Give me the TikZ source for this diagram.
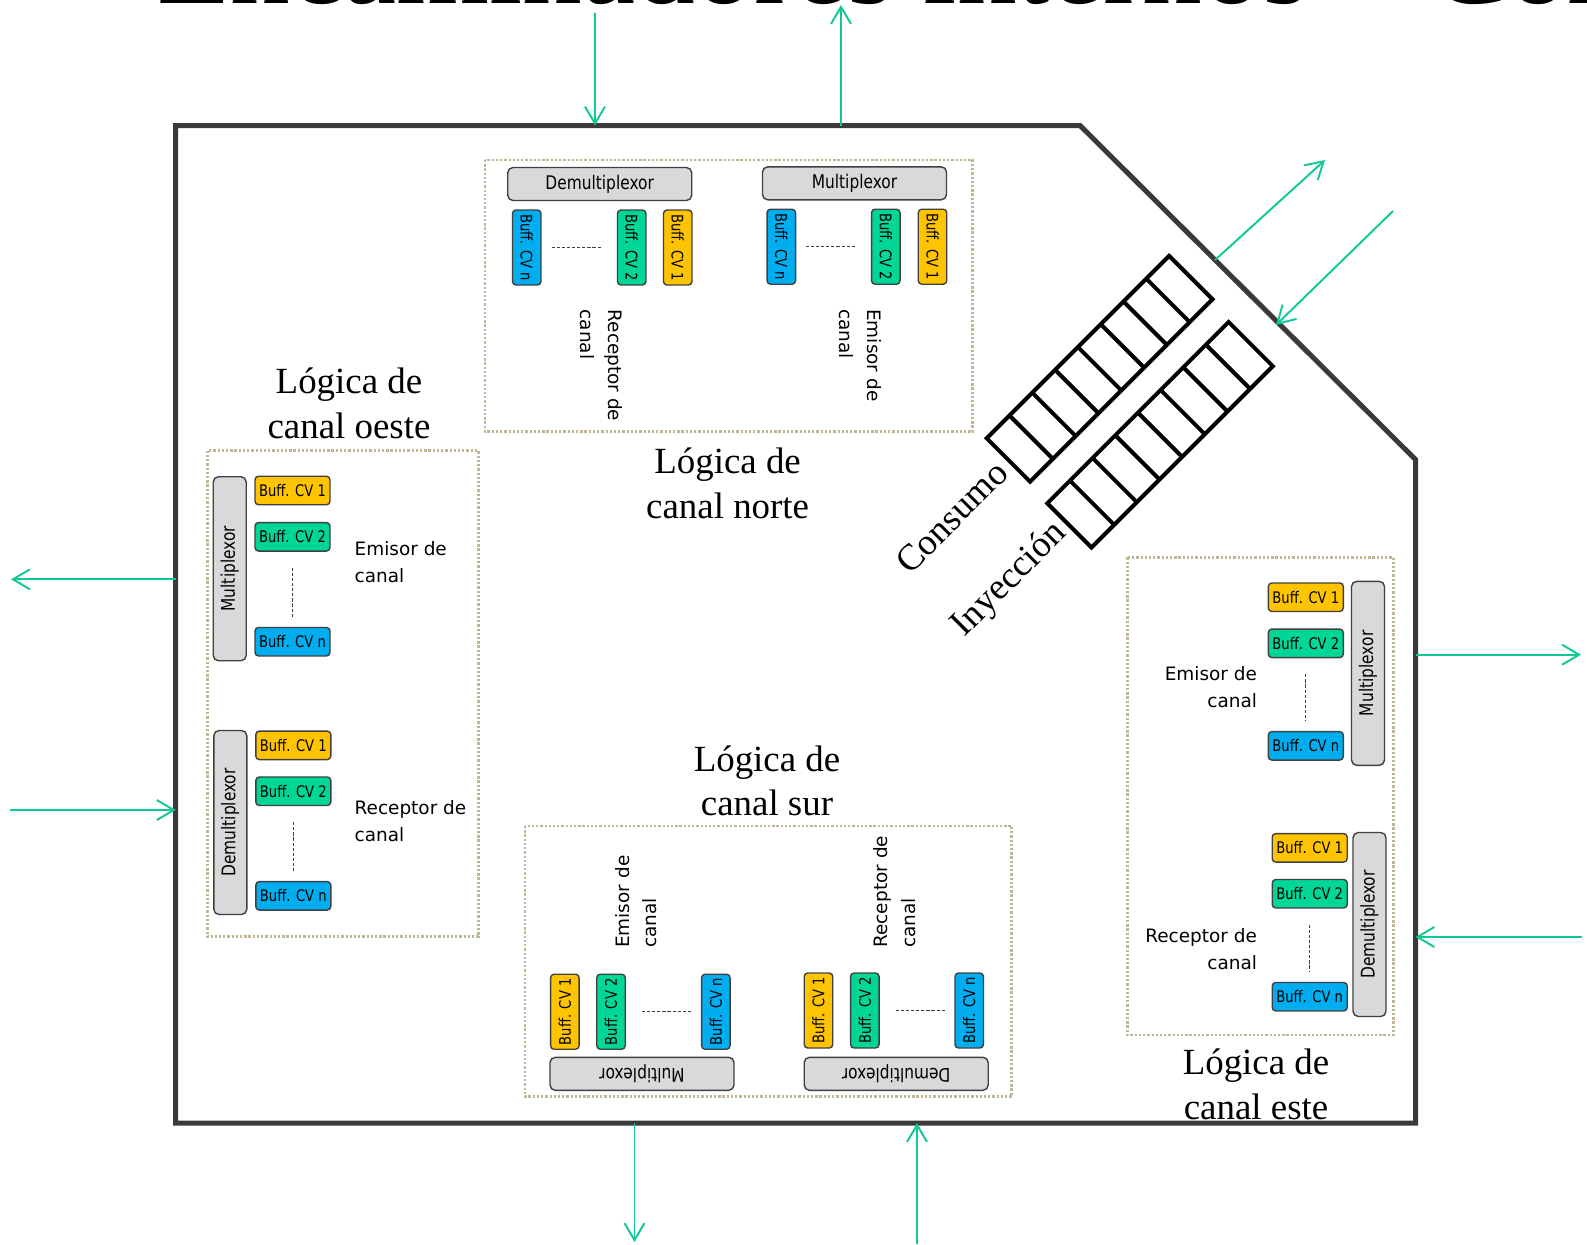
\documentclass[tikz,border=0pt]{standalone}
\usepackage{fontspec}
\setmainfont{Liberation Serif}
\newfontfamily\labfont{DejaVu Sans}
\newfontfamily\boxfont{DejaVu Sans}[FakeStretch=0.82]
\usetikzlibrary{arrows.meta}
\definecolor{cvyellow}{RGB}{255,196,0}
\definecolor{cvgreen}{RGB}{0,214,150}
\definecolor{cvblue}{RGB}{0,174,239}
\definecolor{muxgray}{RGB}{217,217,217}
\definecolor{edgegray}{RGB}{64,64,64}
\definecolor{frametan}{RGB}{190,182,150}
\definecolor{linkgreen}{RGB}{16,200,150}

\begin{document}
\begin{tikzpicture}[
        x=0.2mm, y=-0.2mm,
        mux/.style={draw=edgegray, fill=muxgray, rounded corners=3pt, line width=0.8pt,
                    minimum width=36.8mm, minimum height=6.6mm, inner sep=0pt,
                    font=\boxfont\fontsize{10.7}{12}\selectfont},
        buf/.style={draw=edgegray, rounded corners=2pt, line width=0.8pt,
                    minimum width=15mm, minimum height=5.7mm, inner sep=0pt,
                    font=\boxfont\fontsize{9.1}{10}\selectfont},
        cv1/.style={buf, fill=cvyellow},
        cv2/.style={buf, fill=cvgreen},
        cvn/.style={buf, fill=cvblue},
        ellip/.style={draw=edgegray, line width=0.7pt, dash pattern=on 1.8pt off 1.1pt,
                      shorten <=3.2mm, shorten >=1.9mm},
        side/.style={inner sep=0pt, font=\labfont\fontsize{10.5}{15.8}\selectfont},
        title/.style={align=center, inner sep=0pt, font=\fontsize{21}{25.3}\selectfont},
        qlbl/.style={inner sep=0pt, rotate=45, font=\fontsize{21}{25}\selectfont},
        frame/.style={draw=frametan, line width=1.6pt, dash pattern=on 1.3pt off 1.1pt},
        router/.style={draw=edgegray!90!black, line width=1mm, line join=miter},
        fifo/.style={line width=0.8mm, line join=miter},
        link/.style={draw=linkgreen, line width=1.1pt,
                     -{Straight Barb[length=3.4mm, width=4mm]}}]

    \useasboundingbox (0,0) rectangle (1587,1244);

    % titulo cortado arriba
    \begin{scope}
        \clip (0,0) rectangle (1587,1244);
        \node[anchor=base west, inner sep=0pt, font=\fontsize{68}{80}\selectfont] (head)
            at (157,3) {Encaminadores internos -- Componentes};
    \end{scope}

    % contorno del encaminador
    \draw[router] (175.7,125.5) -- (1080,125.5) -- (1415.5,459.5)
                  -- (1415.5,1123) -- (175.7,1123) -- cycle;

    \draw[frame] (485,160)     rectangle (972.7,431.7);
    \draw[frame] (207.3,450.7) rectangle (478.3,936.7);
    \draw[frame] (1127.3,557.3) rectangle (1393.3,1035);
    \draw[frame] (525,826)     rectangle (1011.7,1096.7);

    % --- Lógica de canal norte
    \node[mux] (nDemux) at (599.7,184)   {Demultiplexor};
    \node[mux] (nMux)   at (854.5,183.3) {Multiplexor};
    \node[cvn, rotate=-90] (nRn) at (526.7,247.5) {Buff. CV n};
    \node[cv2, rotate=-90] (nR2) at (631.7,247.5) {Buff. CV 2};
    \node[cv1, rotate=-90] (nR1) at (677.7,247.5) {Buff. CV 1};
    \node[cvn, rotate=-90] (nEn) at (781.3,246.7) {Buff. CV n};
    \node[cv2, rotate=-90] (nE2) at (885.8,246.7) {Buff. CV 2};
    \node[cv1, rotate=-90] (nE1) at (932.5,246.7) {Buff. CV 1};
    \draw[ellip] (nR2) -- (nRn);
    \draw[ellip] (nE2) -- (nEn);
    \node[side, align=left, rotate=-90] (nRlab) at (601,365.5)   {Receptor de\\canal};
    \node[side, align=left, rotate=-90] (nElab) at (860.5,355.4) {Emisor de\\canal};
    \node[title] (nTitle) at (727.6,483.2) {Lógica de\\canal norte};

    % --- Lógica de canal oeste
    \node[mux, rotate=90] (wMux) at (229.7,568.7) {Multiplexor};
    \node[cv1] (wE1) at (292.5,490.5) {Buff. CV 1};
    \node[cv2] (wE2) at (292.5,536.8) {Buff. CV 2};
    \node[cvn] (wEn) at (292.5,641.7) {Buff. CV n};
    \draw[ellip] (wE2) -- (wEn);
    \node[mux, rotate=90] (wDemux) at (230.3,822.5) {Demultiplexor};
    \node[cv1] (wR1) at (293.3,745.3) {Buff. CV 1};
    \node[cv2] (wR2) at (293.3,791.2) {Buff. CV 2};
    \node[cvn] (wRn) at (293.3,895.8) {Buff. CV n};
    \draw[ellip] (wR2) -- (wRn);
    \node[side, align=left, anchor=west] (wElab) at (354.3,562) {Emisor de\\canal};
    \node[side, align=left, anchor=west] (wRlab) at (354.3,821) {Receptor de\\canal};
    \node[title] (wTitle) at (349,403.2) {Lógica de\\canal oeste};

    % --- Lógica de canal este
    \node[mux, rotate=90] (eMux) at (1368,673.3) {Multiplexor};
    \node[cv1] (eE1) at (1305.8,597.2) {Buff. CV 1};
    \node[cv2] (eE2) at (1305.8,643.3) {Buff. CV 2};
    \node[cvn] (eEn) at (1305.8,745.8) {Buff. CV n};
    \draw[ellip] (eE2) -- (eEn);
    \node[mux, rotate=90] (eDemux) at (1369.5,924.5) {Demultiplexor};
    \node[cv1] (eR1) at (1309.7,847.8) {Buff. CV 1};
    \node[cv2] (eR2) at (1309.7,893.7) {Buff. CV 2};
    \node[cvn] (eRn) at (1309.7,996.7) {Buff. CV n};
    \draw[ellip] (eR2) -- (eRn);
    \node[side, align=right, anchor=east] (eElab) at (1257.3,687) {Emisor de\\canal};
    \node[side, align=right, anchor=east] (eRlab) at (1257.3,949) {Receptor de\\canal};
    \node[title] (eTitle) at (1256,1084.3) {Lógica de\\canal este};

    % --- Lógica de canal sur
    \node[mux, rotate=180] (sMux)   at (642,1073.8)   {Multiplexor};
    \node[mux, rotate=180] (sDemux) at (896.2,1073.8) {Demultiplexor};
    \node[cv1, rotate=90] (sE1) at (564.8,1011.7) {Buff. CV 1};
    \node[cv2, rotate=90] (sE2) at (611,1011.7)   {Buff. CV 2};
    \node[cvn, rotate=90] (sEn) at (715.8,1011.7) {Buff. CV n};
    \node[cv1, rotate=90] (sR1) at (818.5,1010.5) {Buff. CV 1};
    \node[cv2, rotate=90] (sR2) at (864.8,1010.5) {Buff. CV 2};
    \node[cvn, rotate=90] (sRn) at (969.2,1010.5) {Buff. CV n};
    \draw[ellip] (sE2) -- (sEn);
    \draw[ellip] (sR2) -- (sRn);
    \node[side, align=left, rotate=90] (sElab) at (636,901.7)   {Emisor de\\canal};
    \node[side, align=left, rotate=90] (sRlab) at (894.7,891.7) {Receptor de\\canal};
    \node[title] (sTitle) at (767,780.7) {Lógica de\\canal sur};

    % --- colas de consumo e inyección
    \begin{scope}[shift={(986.7,438.3)}, rotate=45]
        \draw[fifo] (0,0) rectangle (258,61.3);
        \foreach \k in {1,...,7}
            \draw[fifo] ({\k*258/8},0) -- ({\k*258/8},61.3);
    \end{scope}
    \begin{scope}[shift={(1047.3,503.3)}, rotate=45]
        \draw[fifo] (0,0) rectangle (256.4,62.5);
        \foreach \k in {1,...,7}
            \draw[fifo] ({\k*256.4/8},0) -- ({\k*256.4/8},62.5);
    \end{scope}
    \node[qlbl] (cons) at (951.5,517) {Consumo};
    \node[qlbl] (iny)  at (1010,580)  {Inyección};

    % --- enlaces
    \coordinate (tIn)   at (595,13);     \coordinate (tInB)  at (595,125.5);
    \coordinate (tOutB) at (841,125.5);  \coordinate (tOut)  at (841,5);
    \coordinate (wOutB) at (175.7,579.3); \coordinate (wOut) at (11,579.3);
    \coordinate (wIn)   at (10,810);     \coordinate (wInB)  at (175.7,810);
    \coordinate (eOutB) at (1415.5,654.7); \coordinate (eOut) at (1581,654.7);
    \coordinate (eIn)   at (1582,937);   \coordinate (eInB)  at (1415.5,937);
    \coordinate (sOutB) at (634.5,1123); \coordinate (sOut)  at (634.5,1242);
    \coordinate (sIn)   at (917,1244);   \coordinate (sInB)  at (917,1123);
    \coordinate (qOutB) at (1215,260);   \coordinate (qOut)  at (1325,160);
    \coordinate (qIn)   at (1393,211);   \coordinate (qInB)  at (1276,325);

    \draw[link] (tIn)   -- (tInB);
    \draw[link] (tOutB) -- (tOut);
    \draw[link] (wOutB) -- (wOut);
    \draw[link] (wIn)   -- (wInB);
    \draw[link] (eOutB) -- (eOut);
    \draw[link] (eIn)   -- (eInB);
    \draw[link] (sOutB) -- (sOut);
    \draw[link] (sIn)   -- (sInB);
    \draw[link] (qOutB) -- (qOut);
    \draw[link] (qIn)   -- (qInB);

\end{tikzpicture}
\end{document}
